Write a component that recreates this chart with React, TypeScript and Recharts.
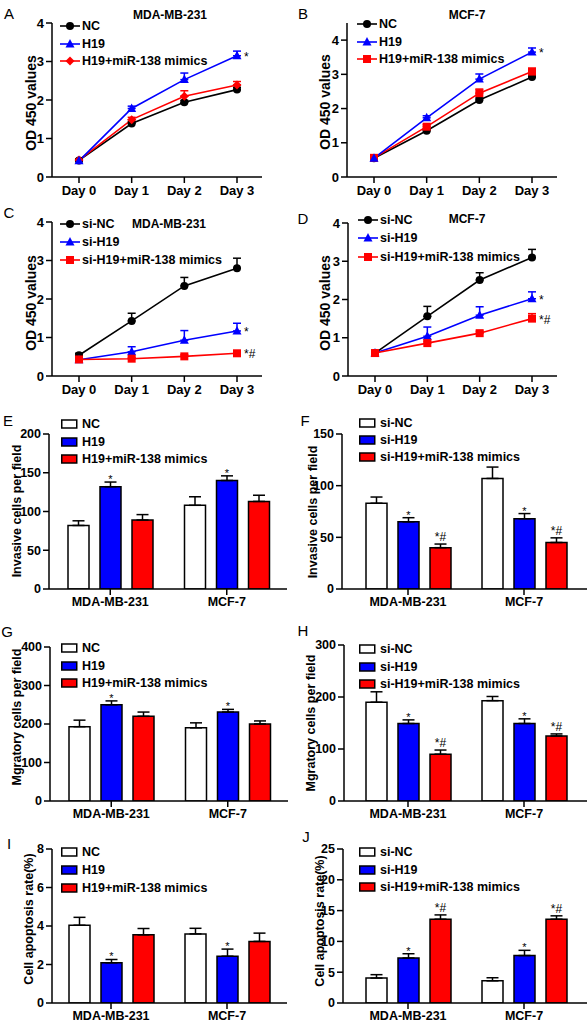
import React from 'react';
import { LineChart, Line, BarChart, Bar, XAxis, YAxis, ErrorBar, LabelList } from 'recharts';

const FONT = '"Liberation Sans", Arial, Helvetica, sans-serif';
const BLUE = '#0000ff';
const RED = '#ff0000';
const BLACK = '#000000';

const days = ['Day 0', 'Day 1', 'Day 2', 'Day 3'];
const cellLines = ['MDA-MB-231', 'MCF-7'];

// A: MDA-MB-231, overexpression (OD 450)
const aNC = [0.43, 1.39, 1.94, 2.27];
const aNCErr = [0.03, 0.05, 0.05, 0.06];
const aH19 = [0.42, 1.78, 2.53, 3.15];
const aH19Err = [0.03, 0.06, 0.17, 0.12];
const aMim = [0.44, 1.49, 2.1, 2.39];
const aMimErr = [0.03, 0.06, 0.14, 0.09];

// B: MCF-7, overexpression
const bNC = [0.55, 1.35, 2.25, 2.92];
const bNCErr = [0.04, 0.05, 0.06, 0.05];
const bH19 = [0.55, 1.73, 2.86, 3.65];
const bH19Err = [0.04, 0.06, 0.15, 0.12];
const bMim = [0.56, 1.47, 2.45, 3.08];
const bMimErr = [0.04, 0.06, 0.12, 0.1];

// C: MDA-MB-231, knockdown
const cNC = [0.54, 1.43, 2.34, 2.8];
const cNCErr = [0.05, 0.2, 0.22, 0.26];
const cH19 = [0.42, 0.63, 0.93, 1.17];
const cH19Err = [0.04, 0.13, 0.25, 0.2];
const cMim = [0.43, 0.45, 0.51, 0.59];
const cMimErr = [0.03, 0.03, 0.04, 0.06];

// D: MCF-7, knockdown
const dNC = [0.6, 1.56, 2.51, 3.1];
const dNCErr = [0.05, 0.26, 0.19, 0.21];
const dH19 = [0.6, 1.04, 1.59, 2.02];
const dH19Err = [0.04, 0.24, 0.22, 0.18];
const dMim = [0.6, 0.86, 1.12, 1.5];
const dMimErr = [0.04, 0.05, 0.05, 0.13];

// E: invasion, overexpression
const eNC = [82, 108];
const eNCErr = [6, 11];
const eH19 = [132, 140];
const eH19Err = [6, 6];
const eMim = [89, 113];
const eMimErr = [7, 8];

// F: invasion, knockdown
const fNC = [83, 107];
const fNCErr = [6, 11];
const fH19 = [65, 68];
const fH19Err = [4, 5];
const fMim = [40, 45];
const fMimErr = [3.5, 4.5];

// G: migration, overexpression
const gNC = [193, 190];
const gNCErr = [17, 13];
const gH19 = [250, 231];
const gH19Err = [10, 7];
const gMim = [220, 200];
const gMimErr = [11, 8];

// H: migration, knockdown
const hNC = [190, 193];
const hNCErr = [20, 8];
const hH19 = [149, 149];
const hH19Err = [7, 9];
const hMim = [90, 125];
const hMimErr = [8, 4];

// I: apoptosis, overexpression
const iNC = [4.04, 3.59];
const iNCErr = [0.41, 0.29];
const iH19 = [2.09, 2.43];
const iH19Err = [0.17, 0.37];
const iMim = [3.54, 3.2];
const iMimErr = [0.33, 0.43];

// J: apoptosis, knockdown
const jNC = [4.05, 3.6];
const jNCErr = [0.55, 0.5];
const jH19 = [7.3, 7.7];
const jH19Err = [0.7, 0.85];
const jMim = [13.6, 13.6];
const jMimErr = [0.7, 0.55];

const starBoth = ['*', '*'];
const starHashBoth = ['*#', '*#'];

type Shape = 'circle' | 'triangle' | 'square' | 'diamond';

interface LineSeries {
  name: string;
  values: number[];
  errors: number[];
  color: string;
  shape: Shape;
  mark?: string;
}

interface BarSeries {
  name: string;
  values: number[];
  errors: number[];
  fill: string;
  marks?: string[];
}

const Marker = ({ cx, cy, shape, color }: { cx: number; cy: number; shape: Shape; color: string }) => {
  if (cx == null || cy == null) return null;
  if (shape === 'triangle') {
    return <polygon points={`${cx},${cy - 5} ${cx - 4.5},${cy + 3.5} ${cx + 4.5},${cy + 3.5}`} fill={color} />;
  }
  if (shape === 'square') {
    return <rect x={cx - 4} y={cy - 4} width={8} height={8} fill={color} />;
  }
  if (shape === 'diamond') {
    return <polygon points={`${cx},${cy - 4.5} ${cx + 4.5},${cy} ${cx},${cy + 4.5} ${cx - 4.5},${cy}`} fill={color} />;
  }
  return <circle cx={cx} cy={cy} r={4} fill={color} />;
};

const axisLine = { stroke: BLACK, strokeWidth: 1.5 };
const yTick = { fill: BLACK, fontSize: 13, fontWeight: 700, fontFamily: FONT };
const barYTick = { fill: BLACK, fontSize: 12.5, fontWeight: 700, fontFamily: FONT };
const dayTick = { fill: BLACK, fontSize: 13, fontWeight: 700, fontFamily: FONT };
const groupTick = { fill: BLACK, fontSize: 12.5, fontWeight: 700, fontFamily: FONT };

interface LinePanelProps {
  left: number;
  top: number;
  yAxisW: number;
  mTop: number;
  mRight: number;
  xAxisH: number;
  padL: number;
  padR: number;
  yMax: number;
  yTicks: number[];
  series: LineSeries[];
}

const LINE_H = 200;

const LinePanel = ({ left, top, yAxisW, mTop, mRight, xAxisH, padL, padR, yMax, yTicks, series }: LinePanelProps) => {
  const rows = days.map((d, i) => {
    const r: any = { day: d };
    series.forEach((s, k) => {
      r['v' + k] = s.values[i];
      r['e' + k] = [0, s.errors[i]];
      r['m' + k] = s.mark && i === days.length - 1 ? s.mark : '';
    });
    return r;
  });
  return (
    <div style={{ position: 'absolute', left, top, width: 294, height: LINE_H }}>
      <LineChart width={294} height={LINE_H} data={rows} margin={{ top: mTop, right: mRight, bottom: 0, left: 0 }}>
        <XAxis dataKey="day" height={xAxisH} padding={{ left: padL, right: padR }} tick={dayTick} tickMargin={3}
          axisLine={axisLine} tickLine={axisLine} interval={0} />
        <YAxis width={yAxisW} type="number" domain={[0, yMax]} ticks={yTicks} tick={yTick}
          axisLine={axisLine} tickLine={axisLine} interval={0} allowDataOverflow />
        {series.map((s, k) => (
          <Line key={k} dataKey={'v' + k} stroke={s.color} strokeWidth={1.6} isAnimationActive={false} activeDot={false}
            dot={(p: any) => <Marker key={`m${k}-${p.index}`} cx={p.cx} cy={p.cy} shape={s.shape} color={s.color} />}>
            <ErrorBar dataKey={'e' + k} width={4} stroke={s.color} strokeWidth={1.5} direction="y" />
            {s.mark ? (
              <LabelList dataKey={'m' + k} content={(p: any) => {
                if (!p.value) return null;
                const vb = p.viewBox || {};
                const x = vb.x ?? p.x;
                const y = vb.y ?? p.y;
                return <text x={x + 7} y={y + 5} fontSize={12} fontFamily={FONT} fill={BLACK}>{p.value}</text>;
              }} />
            ) : null}
          </Line>
        ))}
      </LineChart>
    </div>
  );
};

interface BarPanelProps {
  left: number;
  top: number;
  yAxisW: number;
  mTop: number;
  mRight: number;
  xAxisH: number;
  padL: number;
  padR: number;
  yMax: number;
  yTicks: number[];
  series: BarSeries[];
}

const BAR_H = 230;

const BarPanel = ({ left, top, yAxisW, mTop, mRight, xAxisH, padL, padR, yMax, yTicks, series }: BarPanelProps) => {
  const plotH = BAR_H - mTop - xAxisH;
  const rows = cellLines.map((g, i) => {
    const r: any = { g };
    series.forEach((s, k) => {
      r['v' + k] = s.values[i];
      r['e' + k] = [0, s.errors[i]];
      r['m' + k] = s.marks ? `${s.marks[i]}|${s.errors[i]}` : '';
    });
    return r;
  });
  return (
    <div style={{ position: 'absolute', left, top, width: 294, height: BAR_H }}>
      <BarChart width={294} height={BAR_H} data={rows} margin={{ top: mTop, right: mRight, bottom: 0, left: 0 }} barGap={11}>
        <XAxis dataKey="g" height={xAxisH} padding={{ left: padL, right: padR }} tick={groupTick} tickMargin={2}
          axisLine={axisLine} tickLine={axisLine} interval={0} />
        <YAxis width={yAxisW} type="number" domain={[0, yMax]} ticks={yTicks} tick={barYTick}
          axisLine={axisLine} tickLine={axisLine} interval={0} allowDataOverflow />
        {series.map((s, k) => (
          <Bar key={k} dataKey={'v' + k} fill={s.fill} stroke={BLACK} strokeWidth={1.5} barSize={21} isAnimationActive={false}>
            <ErrorBar dataKey={'e' + k} width={6} stroke={BLACK} strokeWidth={1.5} direction="y" />
            {s.marks ? (
              <LabelList dataKey={'m' + k} content={(p: any) => {
                if (!p.value) return null;
                const [mark, err] = String(p.value).split('|');
                const vb = p.viewBox || {};
                const x = vb.x ?? p.x;
                const y = vb.y ?? p.y;
                const w = vb.width ?? p.width ?? 0;
                const errTop = y - (Number(err) * plotH) / yMax;
                const base = mark.length > 1 ? errTop - 3 : errTop + 1;
                return (
                  <text x={x + w / 2} y={base} textAnchor="middle" fontSize={mark.length > 1 ? 12 : 11} fontFamily={FONT} fill={BLACK}>
                    {mark}
                  </text>
                );
              }} />
            ) : null}
          </Bar>
        ))}
      </BarChart>
    </div>
  );
};

interface LegendItem {
  name: string;
  color: string;
  shape?: Shape;
}

const LegendBox = ({ x, y, step, items, kind }: { x: number; y: number; step: number; items: LegendItem[]; kind: 'line' | 'bar' }) => (
  <>
    {items.map((it, i) => (
      <div key={i} style={{ position: 'absolute', left: x, top: y + i * step - 8, height: 16, display: 'flex', alignItems: 'center', whiteSpace: 'nowrap' }}>
        {kind === 'line' ? (
          <svg width={22} height={12} style={{ display: 'block' }}>
            <line x1={0} y1={6} x2={20} y2={6} stroke={it.color} strokeWidth={1.6} />
            <Marker cx={10} cy={6} shape={it.shape || 'circle'} color={it.color} />
          </svg>
        ) : (
          <svg width={21} height={12} style={{ display: 'block' }}>
            <rect x={0.75} y={2} width={15} height={8} fill={it.color} stroke={BLACK} strokeWidth={1.5} />
          </svg>
        )}
        <span style={{ fontFamily: FONT, fontSize: 12.5, fontWeight: 700, color: BLACK, lineHeight: '16px' }}>{it.name}</span>
      </div>
    ))}
  </>
);

const Centered = ({ x, y, size, bold, children, rotate }: { x: number; y: number; size: number; bold?: boolean; children: React.ReactNode; rotate?: boolean }) => (
  <div style={{
    position: 'absolute', left: x, top: y, transform: `translate(-50%, -50%)${rotate ? ' rotate(-90deg)' : ''}`,
    fontFamily: FONT, fontSize: size, fontWeight: bold ? 700 : 400, color: BLACK, whiteSpace: 'nowrap', lineHeight: 1,
  }}>{children}</div>
);

const ovLegend = (thirdShape: Shape): LegendItem[] => [
  { name: 'NC', color: BLACK, shape: 'circle' },
  { name: 'H19', color: BLUE, shape: 'triangle' },
  { name: 'H19+miR-138 mimics', color: RED, shape: thirdShape },
];
const kdLegend: LegendItem[] = [
  { name: 'si-NC', color: BLACK, shape: 'circle' },
  { name: 'si-H19', color: BLUE, shape: 'triangle' },
  { name: 'si-H19+miR-138 mimics', color: RED, shape: 'square' },
];
const ovBarLegend: LegendItem[] = [
  { name: 'NC', color: '#ffffff' },
  { name: 'H19', color: BLUE },
  { name: 'H19+miR-138 mimics', color: RED },
];
const kdBarLegend: LegendItem[] = [
  { name: 'si-NC', color: '#ffffff' },
  { name: 'si-H19', color: BLUE },
  { name: 'si-H19+miR-138 mimics', color: RED },
];

export default function App() {
  return (
    <div style={{ position: 'absolute', left: 0, top: 0, width: 588, height: 1026, overflow: 'hidden', background: '#fff' }}>
      <LinePanel left={0} top={0} yAxisW={52} mTop={23} mRight={32} xAxisH={23} padL={27} padR={25} yMax={4} yTicks={[0, 1, 2, 3, 4]}
        series={[
          { name: 'NC', values: aNC, errors: aNCErr, color: BLACK, shape: 'circle' },
          { name: 'H19+miR-138 mimics', values: aMim, errors: aMimErr, color: RED, shape: 'diamond' },
          { name: 'H19', values: aH19, errors: aH19Err, color: BLUE, shape: 'triangle', mark: '*' },
        ]} />
      <LinePanel left={294} top={0} yAxisW={53} mTop={23} mRight={31} xAxisH={23} padL={27} padR={25} yMax={4.5} yTicks={[0, 1, 2, 3, 4]}
        series={[
          { name: 'NC', values: bNC, errors: bNCErr, color: BLACK, shape: 'circle' },
          { name: 'H19+miR-138 mimics', values: bMim, errors: bMimErr, color: RED, shape: 'square' },
          { name: 'H19', values: bH19, errors: bH19Err, color: BLUE, shape: 'triangle', mark: '*' },
        ]} />
      <LinePanel left={0} top={200} yAxisW={52} mTop={22} mRight={32} xAxisH={24} padL={27} padR={25} yMax={4} yTicks={[0, 1, 2, 3, 4]}
        series={[
          { name: 'si-NC', values: cNC, errors: cNCErr, color: BLACK, shape: 'circle' },
          { name: 'si-H19', values: cH19, errors: cH19Err, color: BLUE, shape: 'triangle', mark: '*' },
          { name: 'si-H19+miR-138 mimics', values: cMim, errors: cMimErr, color: RED, shape: 'square', mark: '*#' },
        ]} />
      <LinePanel left={294} top={200} yAxisW={54} mTop={23} mRight={31} xAxisH={24} padL={27} padR={25} yMax={4} yTicks={[0, 1, 2, 3, 4]}
        series={[
          { name: 'si-NC', values: dNC, errors: dNCErr, color: BLACK, shape: 'circle' },
          { name: 'si-H19', values: dH19, errors: dH19Err, color: BLUE, shape: 'triangle', mark: '*' },
          { name: 'si-H19+miR-138 mimics', values: dMim, errors: dMimErr, color: RED, shape: 'square', mark: '*#' },
        ]} />

      <BarPanel left={0} top={395} yAxisW={49} mTop={39} mRight={7} xAxisH={36} padL={3} padR={2} yMax={200} yTicks={[0, 50, 100, 150, 200]}
        series={[
          { name: 'NC', values: eNC, errors: eNCErr, fill: '#ffffff' },
          { name: 'H19', values: eH19, errors: eH19Err, fill: BLUE, marks: starBoth },
          { name: 'H19+miR-138 mimics', values: eMim, errors: eMimErr, fill: RED },
        ]} />
      <BarPanel left={294} top={395} yAxisW={48} mTop={39} mRight={1} xAxisH={36} padL={8} padR={5} yMax={150} yTicks={[0, 50, 100, 150]}
        series={[
          { name: 'si-NC', values: fNC, errors: fNCErr, fill: '#ffffff' },
          { name: 'si-H19', values: fH19, errors: fH19Err, fill: BLUE, marks: starBoth },
          { name: 'si-H19+miR-138 mimics', values: fMim, errors: fMimErr, fill: RED, marks: starHashBoth },
        ]} />
      <BarPanel left={0} top={600} yAxisW={50} mTop={47} mRight={6} xAxisH={29} padL={3} padR={2} yMax={400} yTicks={[0, 100, 200, 300, 400]}
        series={[
          { name: 'NC', values: gNC, errors: gNCErr, fill: '#ffffff' },
          { name: 'H19', values: gH19, errors: gH19Err, fill: BLUE, marks: starBoth },
          { name: 'H19+miR-138 mimics', values: gMim, errors: gMimErr, fill: RED },
        ]} />
      <BarPanel left={294} top={600} yAxisW={50} mTop={45} mRight={1} xAxisH={29} padL={6} padR={5} yMax={300} yTicks={[0, 100, 200, 300]}
        series={[
          { name: 'si-NC', values: hNC, errors: hNCErr, fill: '#ffffff' },
          { name: 'si-H19', values: hH19, errors: hH19Err, fill: BLUE, marks: starBoth },
          { name: 'si-H19+miR-138 mimics', values: hMim, errors: hMimErr, fill: RED, marks: starHashBoth },
        ]} />
      <BarPanel left={0} top={810} yAxisW={52} mTop={39} mRight={7} xAxisH={37} padL={1} padR={2} yMax={8} yTicks={[0, 2, 4, 6, 8]}
        series={[
          { name: 'NC', values: iNC, errors: iNCErr, fill: '#ffffff' },
          { name: 'H19', values: iH19, errors: iH19Err, fill: BLUE, marks: starBoth },
          { name: 'H19+miR-138 mimics', values: iMim, errors: iMimErr, fill: RED },
        ]} />
      <BarPanel left={294} top={810} yAxisW={49} mTop={39} mRight={1} xAxisH={37} padL={7} padR={5} yMax={25} yTicks={[0, 5, 10, 15, 20, 25]}
        series={[
          { name: 'si-NC', values: jNC, errors: jNCErr, fill: '#ffffff' },
          { name: 'si-H19', values: jH19, errors: jH19Err, fill: BLUE, marks: starBoth },
          { name: 'si-H19+miR-138 mimics', values: jMim, errors: jMimErr, fill: RED, marks: starHashBoth },
        ]} />

      {/* panel letters */}
      <Centered x={9} y={13} size={15}>A</Centered>
      <Centered x={303} y={13} size={15}>B</Centered>
      <Centered x={9} y={212} size={15}>C</Centered>
      <Centered x={303} y={218} size={15}>D</Centered>
      <Centered x={8} y={420} size={15}>E</Centered>
      <Centered x={305} y={420} size={15}>F</Centered>
      <Centered x={7} y={631} size={15}>G</Centered>
      <Centered x={303} y={630} size={15}>H</Centered>
      <Centered x={9} y={843} size={15}>I</Centered>
      <Centered x={306} y={836} size={15}>J</Centered>

      {/* titles */}
      <Centered x={170} y={15} size={12} bold>MDA-MB-231</Centered>
      <Centered x={467} y={15} size={12} bold>MCF-7</Centered>
      <Centered x={169} y={224} size={12} bold>MDA-MB-231</Centered>
      <Centered x={467} y={219} size={12} bold>MCF-7</Centered>

      {/* y-axis titles */}
      <Centered x={31} y={103} size={14} bold rotate>OD 450 values</Centered>
      <Centered x={325} y={102} size={14} bold rotate>OD 450 values</Centered>
      <Centered x={31} y={303} size={14} bold rotate>OD 450 values</Centered>
      <Centered x={325} y={303} size={14} bold rotate>OD 450 values</Centered>
      <Centered x={17} y={511} size={12.5} bold rotate>Invasive cells per field</Centered>
      <Centered x={313} y={512} size={12.5} bold rotate>Invasive cells per field</Centered>
      <Centered x={17} y={717} size={12.5} bold rotate>Mgratory cells per field</Centered>
      <Centered x={311} y={723} size={12.5} bold rotate>Mgratory cells per field</Centered>
      <Centered x={29} y={919} size={12.5} bold rotate>Cell apoptosis rate(%)</Centered>
      <Centered x={320} y={921} size={12.5} bold rotate>Cell apoptosis rate(%)</Centered>

      {/* legends */}
      <LegendBox x={60} y={26} step={17.5} items={ovLegend('diamond')} kind="line" />
      <LegendBox x={357} y={24} step={17.5} items={ovLegend('square')} kind="line" />
      <LegendBox x={60} y={224} step={18} items={kdLegend} kind="line" />
      <LegendBox x={358} y={220} step={18.3} items={kdLegend} kind="line" />
      <LegendBox x={61} y={424} step={17.5} items={ovBarLegend} kind="bar" />
      <LegendBox x={359} y={423} step={17} items={kdBarLegend} kind="bar" />
      <LegendBox x={61} y={648} step={17.5} items={ovBarLegend} kind="bar" />
      <LegendBox x={359} y={649} step={17.5} items={kdBarLegend} kind="bar" />
      <LegendBox x={61} y={852} step={18} items={ovBarLegend} kind="bar" />
      <LegendBox x={359} y={852} step={17.5} items={kdBarLegend} kind="bar" />
    </div>
  );
}
